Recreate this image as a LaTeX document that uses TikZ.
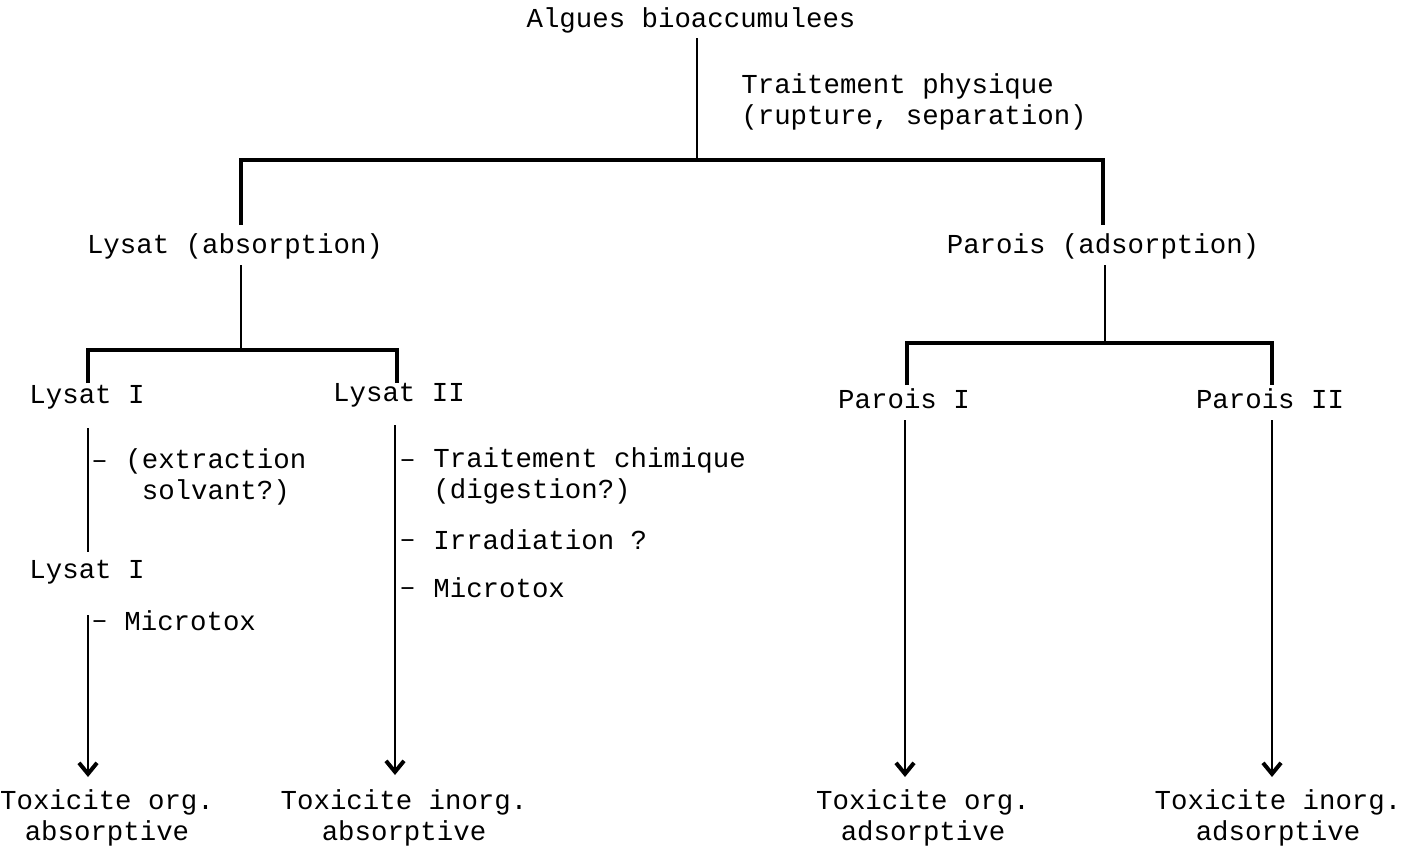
\documentclass[tikz,border=0pt]{standalone}
\usepackage{fontspec}
\setmainfont{Liberation Mono}
\usetikzlibrary{arrows.meta}

\newcommand{\tdash}{\vphantom{(}\textendash}

\begin{document}
\begin{tikzpicture}[x=0.5pt, y=-0.5pt,
    every node/.style={inner sep=0pt, font=\fontsize{13.7}{15.5}\selectfont},
    bar/.style={line width=1.8pt},
    stem/.style={line width=1.2pt},
    flow/.style={line width=1.2pt, -{Straight Barb[length=5.5pt, width=9pt, line width=2pt]}}]
  \useasboundingbox (0,0) rectangle (1416,851);

  % TOP
  \node (algues) at (691, 20) {Algues bioaccumulees};
  \node[anchor=west, align=left] (physique) at (741, 102) {Traitement physique\\(rupture, separation)};
  \coordinate (algbot) at (697, 38);
  \coordinate (split) at (697, 160);
  \draw[stem] (algbot) -- (split);

  % First split
  \node (lysat) at (235, 246) {Lysat (absorption)};
  \node (parois) at (1103, 246) {Parois (adsorption)};
  \coordinate (lysattop) at (241, 225);
  \coordinate (paroistop) at (1103, 225);
  \draw[bar] (lysattop) |- (split) -| (paroistop);

  % Lysat split
  \coordinate (lysatbot) at (241, 265);
  \coordinate (lsplit) at (241, 350);
  \coordinate (lysIa) at (88, 383);
  \coordinate (lysIIa) at (397, 383);
  \draw[stem] (lysatbot) -- (lsplit);
  \draw[bar] (lysIa) |- (lsplit) -| (lysIIa);

  % Parois split
  \coordinate (paroisbot) at (1105, 265);
  \coordinate (psplit) at (1105, 343);
  \coordinate (parIa) at (907, 385);
  \coordinate (parIIa) at (1272, 385);
  \draw[stem] (paroisbot) -- (psplit);
  \draw[bar] (parIa) |- (psplit) -| (parIIa);

  % Fractions
  \node (lysI) at (87, 397) {Lysat I};
  \node (lysII) at (399, 395) {Lysat II};
  \node (parI) at (904, 399) {Parois I};
  \node (parII) at (1270, 399) {Parois II};

  % Lysat I branch
  \coordinate (lysIb) at (88, 428);
  \coordinate (lysIc) at (88, 552);
  \draw[stem] (lysIb) -- (lysIc);
  \node[anchor=west] (d1) at (91, 461) {\tdash};
  \node[anchor=west, align=left] (extr) at (125, 477) {(extraction\\\hphantom{(}solvant?)};
  \node (lysIbis) at (87, 572) {Lysat I};
  \node[anchor=west] (d2) at (91, 621) {\tdash};
  \node[anchor=west] (micro1) at (124, 621) {Microtox};

  % Lysat II branch
  \node[anchor=west] (d3) at (399, 460) {\tdash};
  \node[anchor=west, align=left] (chim) at (433, 476) {Traitement chimique\\(digestion?)};
  \node[anchor=west] (d4) at (399, 540) {\tdash};
  \node[anchor=west] (irr) at (433, 540) {Irradiation ?};
  \node[anchor=west] (d5) at (399, 588) {\tdash};
  \node[anchor=west] (micro2) at (433, 588) {Microtox};

  % RESULT
  \node[align=center] (toxA) at (107, 818) {Toxicite org.\\absorptive};
  \node[align=center] (toxB) at (404, 818) {Toxicite inorg.\\absorptive};
  \node[align=center] (toxC) at (923, 818) {Toxicite org.\\adsorptive};
  \node[align=center] (toxD) at (1278, 818) {Toxicite inorg.\\adsorptive};

  % Arrows
  \coordinate (lysId) at (88, 615);
  \coordinate (lysIIb) at (395, 425);
  \coordinate (parIb) at (905, 420);
  \coordinate (parIIb) at (1272, 420);
  \draw[flow] (lysId) -- (lysId |- 0, 777);
  \draw[flow] (lysIIb) -- (lysIIb |- 0, 775);
  \draw[flow] (parIb) -- (parIb |- 0, 777);
  \draw[flow] (parIIb) -- (parIIb |- 0, 777);
\end{tikzpicture}
\end{document}
